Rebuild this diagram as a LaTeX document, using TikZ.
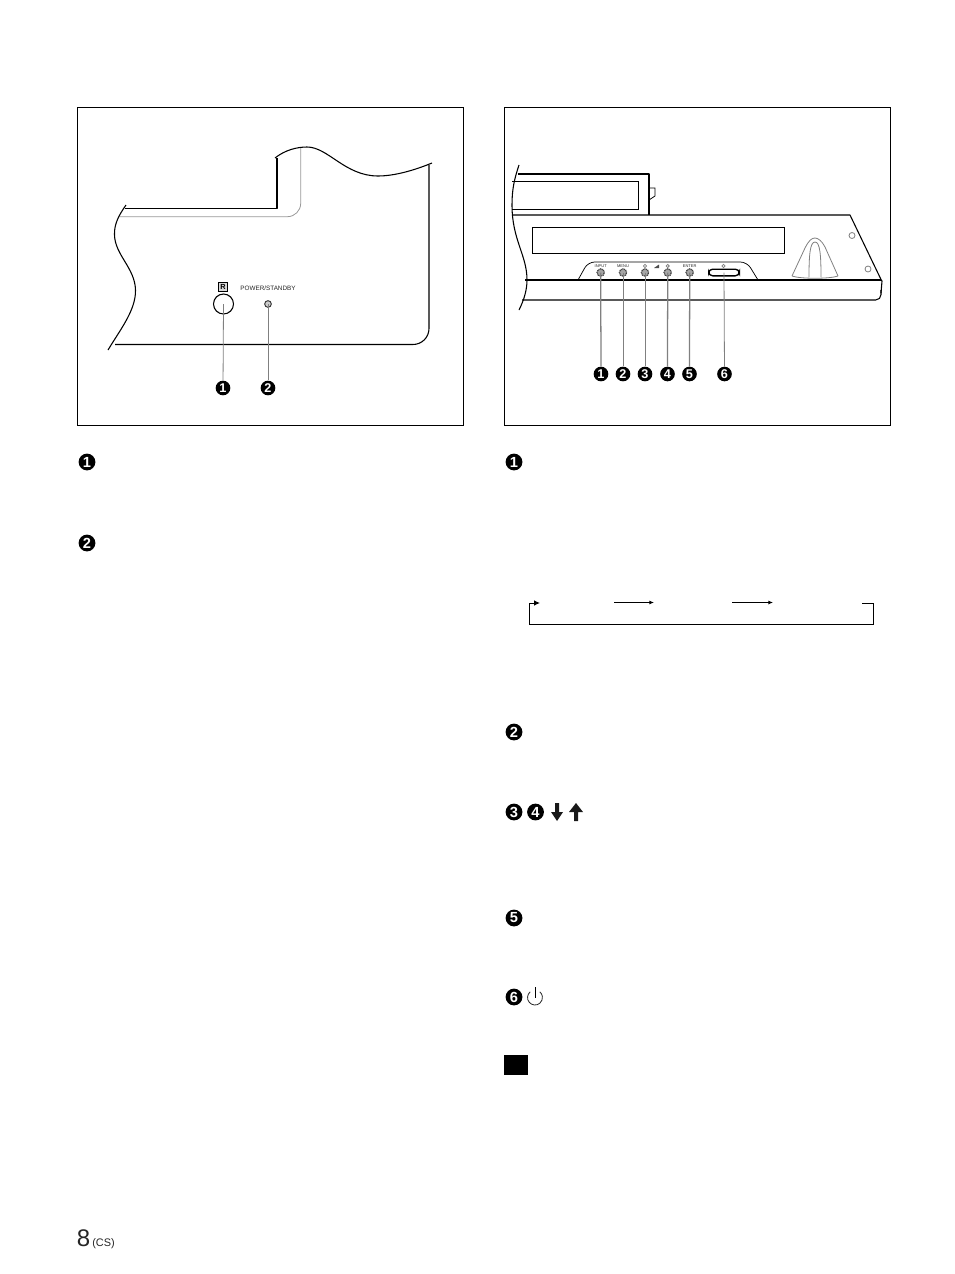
\documentclass[tikz,border=0pt]{standalone}
\usepackage{fontspec}
\setmainfont{Liberation Sans}
\usetikzlibrary{arrows.meta}
\definecolor{leadgray}{gray}{0.5}
\definecolor{softgray}{gray}{0.6}
\tikzset{
  x=0.75pt,y=-0.75pt,
  panel/.style={draw=black,line width=0.55pt},
  ink/.style={draw=black,line width=0.8pt,line join=round},
  thin ink/.style={draw=black,line width=0.55pt},
  soft/.style={draw=softgray,line width=0.6pt},
  lead/.style={draw=leadgray,line width=0.95pt},
  leadthin/.style={draw=leadgray,line width=0.6pt},
  badge/.style={circle,fill=black,text=white,inner sep=0pt,minimum size=11pt,font=\fontsize{9.5}{9.5}\selectfont\bfseries},
  bigbadge/.style={badge,minimum size=12.6pt,font=\fontsize{11}{11}\selectfont\bfseries},
  btn/.style={circle,draw=black!75,dash pattern=on 0.8pt off 0.5pt,fill=black!35,line width=0.9pt,inner sep=0pt,minimum size=5.5pt},
  tiny/.style={inner sep=0pt,font=\fontsize{3}{3}\selectfont,text=black!85},
  flow/.style={draw=black,line width=0.7pt,-{Latex[length=3.4pt,width=3pt]}},
  flowbig/.style={draw=black,line width=0.7pt,-{Latex[length=4.5pt,width=4.2pt]}},
}
\begin{document}
\begin{tikzpicture}
\useasboundingbox (0,0) rectangle (954,1274);
\fill[white] (0,0) rectangle (954,1274);
% frames
\draw[panel] (77.5,107.5) rectangle (463.5,425.5);
\draw[panel] (504.5,107.5) rectangle (890.5,425.5);

% --- left panel drawing
\draw[ink] (275,158) .. controls (285,150) and (297,147) .. (307,147) .. controls (328,147) and (345,176) .. (378,176) .. controls (395,176) and (415,170) .. (432,163);
\draw[ink] (277,158) -- (277,208.5) -- (125,208.5);
\draw[soft,rounded corners=10pt] (300.7,148) -- (300.7,216.7) -- (120,216.7);
\draw[ink] (126,205) .. controls (119,215) and (114,224) .. (114.5,235) .. controls (115,255) and (135,268) .. (135.5,290) .. controls (136,310) and (120,330) .. (108,350);
\draw[ink,rounded corners=12pt] (429,165) -- (429,344.5) -- (115,344.5);

\node[draw=black,fill=black!15,line width=0.4pt,inner sep=0pt,minimum size=6.5pt,font=\fontsize{5.5}{5.5}\selectfont\bfseries] (rbox) at (223,287) {R};
\node[circle,draw=black,line width=0.8pt,inner sep=0pt,minimum size=15pt] (sensor) at (223.5,304) {};
\node[inner sep=0pt,font=\fontsize{4.75}{5}\selectfont,text=black!85] (powerlbl) at (268,288.5) {POWER/STANDBY};
\node[circle,draw=black!80,fill=black!20,line width=0.7pt,inner sep=0pt,minimum size=5pt] (led) at (268,304) {};
\node[badge] (la) at (223,388) {1};
\node[badge] (lb) at (268,388) {2};
\draw[leadthin] (sensor.center) -- (la);
\draw[leadthin] (led.center) -- (lb);

% --- right panel drawing
\draw[ink] (519,165) .. controls (514,180) and (512,190) .. (512,205) .. controls (512,240) and (527,255) .. (527,280) .. controls (527,290) and (524,300) .. (519,310);
\draw[ink] (518,174) -- (649,174) -- (649,215);
\draw[thin ink] (649,188) -- (655,188) -- (655,196) -- (649,200);
\draw[thin ink] (512,181) -- (638,181) -- (638,209.5) -- (512,209.5);
\draw[ink] (512,215) -- (850,215) -- (881,279.5) -- (882,281) -- (881,293);
\draw[ink,rounded corners=4pt] (881,290) -- (881,300) -- (522,300);
\draw[ink] (525,280) -- (881,280);
\draw[thin ink] (532,227) rectangle (784,253);
\draw[thin ink,rounded corners=5pt] (578,280) -- (588,262) -- (747,262) -- (758,280);
\draw[leadthin] (792,276) .. controls (800,279) and (830,279) .. (838,276);
\draw[leadthin] (792,276) -- (805,248) .. controls (809,240) and (812,238) .. (815,238) .. controls (818,238) and (822,241) .. (825,247) -- (838,276);
\draw[leadthin] (809,277) .. controls (809,255) and (810,242) .. (815,242) .. controls (820,242) and (821,255) .. (821,277);
\draw[leadthin] (852,235.5) circle (3);
\draw[leadthin] (868,269) circle (3);

\node[btn] (b1) at (600.7,272.5) {};
\node[btn] (b2) at (623,272.5) {};
\node[btn] (b3) at (645,272.5) {};
\node[btn] (b4) at (667.7,272.5) {};
\node[btn] (b5) at (689.7,272.5) {};
\node[draw=black,line width=1pt,rounded corners=3pt,inner sep=0pt,minimum width=23pt,minimum height=5pt] (b6) at (724,272.5) {};
\node[tiny] (tinput) at (600.7,266) {INPUT};
\node[tiny] (tmenu) at (623,266) {MENU};
\node[tiny] (tenter) at (689.7,266) {ENTER};
\draw[leadthin] (645,266) circle (1.6);
\draw[leadthin] (667.7,266) circle (1.6);
\draw[leadthin] (723.5,266) circle (1.6);
\fill[black!70] (654,268) -- (659,268) -- (659,264.5) -- cycle;

\node[badge] (ra) at (601,374) {1};
\node[badge] (rb) at (623,374) {2};
\node[badge] (rc) at (645,374) {3};
\node[badge] (rd) at (667.5,374) {4};
\node[badge] (re) at (689.5,374) {5};
\node[badge] (rf) at (724.5,374) {6};
\draw[lead] (b1.center) -- (ra);
\draw[leadthin] (b2.center) -- (rb);
\draw[leadthin] (b3.center) -- (rc);
\draw[lead] (b4.center) -- (rd);
\draw[lead] (b5.center) -- (re);
\draw[leadthin] (b6.center) -- (rf);

% --- text column markers
\node[bigbadge] (ta) at (87,462) {1};
\node[bigbadge] (tb) at (87,543) {2};
\node[bigbadge] (tc) at (514,462) {1};
\node[bigbadge] (td) at (514,732) {2};
\node[bigbadge] (te) at (514,812) {3};
\node[bigbadge] (tf) at (535.5,812) {4};
\node[bigbadge] (tg) at (514,918) {5};
\node[bigbadge] (th) at (514,997) {6};

% thick arrows
\fill[black!90] (555,803) -- (559,803) -- (559,812) -- (563,812) -- (557,821) -- (551,812) -- (555,812) -- cycle;
\fill[black!90] (574,821) -- (578,821) -- (578,812) -- (583,812) -- (576,803) -- (569,812) -- (574,812) -- cycle;
% standby symbol
\draw[black,line width=0.6pt] (535,987) -- (535,998);
\draw[black!85,line width=0.6pt] (530.2,991.8) arc[start angle=130,end angle=410,radius=5.6pt];

% cycle arrows
\coordinate (ls) at (862,603);
\coordinate (lr) at (873,603);
\coordinate (lb1) at (873,624);
\coordinate (lb2) at (529,624);
\coordinate (ll) at (529,603);
\coordinate (le) at (540,603);
\draw[flowbig] (ls) -- (lr) -- (lb1) -- (lb2) -- (ll) -- (le);
\coordinate (f1) at (614,602.5);
\coordinate (f2) at (654,602.5);
\coordinate (f3) at (732,602.5);
\coordinate (f4) at (773,602.5);
\draw[flow] (f1) -- (f2);
\draw[flow] (f3) -- (f4);

% note block
\fill[black] (504,1055) rectangle (528,1075);

% page number
\node[anchor=base west,inner sep=0pt,font=\fontsize{18}{18}\selectfont,text=black!85] (pg) at (76.5,1246) {8};
\node[anchor=base west,inner sep=0pt,font=\fontsize{8.2}{8.2}\selectfont,text=black!85] (cs) at (92,1246) {(CS)};
\end{tikzpicture}
\end{document}
